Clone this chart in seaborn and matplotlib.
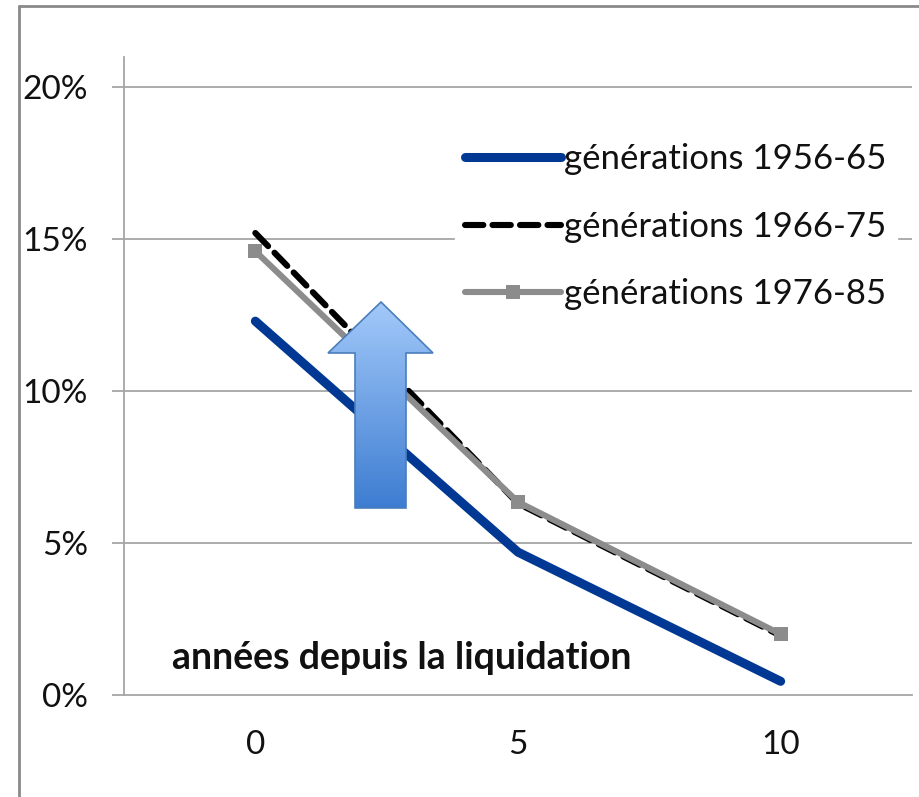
import numpy as np
import pandas as pd
import matplotlib
matplotlib.use("Agg")
import matplotlib.pyplot as plt
import seaborn as sns
from matplotlib.patches import Polygon
from matplotlib.lines import Line2D
from matplotlib.ticker import FuncFormatter

# ---- data ----
years = [0, 5, 10]
gen_1956_65 = [12.3, 4.7, 0.45]
gen_1966_75 = [15.2, 6.3, 1.95]
gen_1976_85 = [14.6, 6.35, 2.0]
series_labels = ["générations 1956-65", "générations 1966-75", "générations 1976-85"]
y_ticks = [0, 5, 10, 15, 20]
annotation = "années depuis la liquidation"

sns.set_theme(style="white")
plt.rcParams["font.family"] = ["Lato", "DejaVu Sans"]

W, H = 919, 797
fig = plt.figure(figsize=(W / 100, H / 100), dpi=100)
ax = fig.add_axes([124 / W, 1 - 695 / H, (912 - 124) / W, (695 - 57) / H])

df = pd.DataFrame({
    "x": years * 3,
    "y": gen_1956_65 + gen_1966_75 + gen_1976_85,
    "serie": [series_labels[0]] * 3 + [series_labels[1]] * 3 + [series_labels[2]] * 3,
})

sns.lineplot(data=df[df.serie == series_labels[0]], x="x", y="y", ax=ax,
             color="#003893", linewidth=6.5, solid_capstyle="round",
             label=series_labels[0], zorder=3)
sns.lineplot(data=df[df.serie == series_labels[1]], x="x", y="y", ax=ax,
             color="black", linewidth=4.4, dashes=False, label=series_labels[1], zorder=4)
ax.lines[-1].set_dashes([3.0, 1.5])
ax.lines[-1].set_dash_capstyle("round")
sns.lineplot(data=df[df.serie == series_labels[2]], x="x", y="y", ax=ax,
             color="#8c8c8c", linewidth=4.4, marker="s", markersize=10,
             markeredgewidth=0, label=series_labels[2], zorder=5)

ax.set_xlim(-2.5, 12.5)
ax.set_ylim(0, 20.99)
ax.set_xticks(years)
ax.set_xticklabels([str(v) for v in years])
ax.set_yticks(y_ticks)
ax.yaxis.set_major_formatter(FuncFormatter(lambda v, p: f"{v:.0f}%"))
ax.set_xlabel("")
ax.set_ylabel("")

for yv in y_ticks[1:]:
    ax.axhline(yv, color="#a6a6a6", linewidth=1.3, zorder=1)

for s in ["top", "right"]:
    ax.spines[s].set_visible(False)
ax.spines["left"].set_color("#a6a6a6")
ax.spines["bottom"].set_color("#a6a6a6")
ax.spines["left"].set_linewidth(1.3)
ax.spines["bottom"].set_linewidth(1.3)

ax.tick_params(axis="y", which="major", length=9, width=1.3, color="#a6a6a6",
               direction="out", left=True, pad=17, labelsize=24, labelcolor="#111111")
ax.tick_params(axis="x", which="major", length=0, pad=25, labelsize=24, labelcolor="#111111")

leg = ax.legend(loc="upper left", bbox_to_anchor=((455 - 124) / 788, (695 - 133) / 638),
                frameon=True, fancybox=False, framealpha=1, edgecolor="white",
                facecolor="white", fontsize=25, handlelength=2.74, handletextpad=0.1,
                labelspacing=1.02, borderpad=0.3, borderaxespad=0)
leg.set_zorder(6)
for txt in leg.get_texts():
    txt.set_color("#111111")

ax.text((172 - 124) / 788, (695 - 658) / 638, annotation, transform=ax.transAxes,
        fontsize=27, fontweight="bold", color="#111111", va="center", ha="left", zorder=7)

# gradient arrow (axes fraction coords)
def fx(px):
    return (px - 124) / 788

def fy(py):
    return (695 - py) / 638

arrow_pts = [(fx(381), fy(302)), (fx(433), fy(353)), (fx(406), fy(353)), (fx(406), fy(508)),
             (fx(355), fy(508)), (fx(355), fy(353)), (fx(328), fy(353))]
poly = Polygon(arrow_pts, closed=True, transform=ax.transAxes, facecolor="none",
               edgecolor="#4a7ebb", linewidth=1.2, zorder=9)
ax.add_patch(poly)
top_c = np.array([0.64, 0.79, 0.98])
bot_c = np.array([0.24, 0.49, 0.82])
t = np.linspace(0, 1, 256)[:, None]
grad = (top_c[None, :] * (1 - t) + bot_c[None, :] * t)[:, None, :]
im = ax.imshow(grad, extent=[fx(328), fx(433), fy(508), fy(302)], transform=ax.transAxes,
               aspect="auto", zorder=8, interpolation="bilinear")
clip = Polygon(arrow_pts, closed=True, transform=ax.transAxes)
im.set_clip_path(clip)
ax.set_xlim(-2.5, 12.5)
ax.set_ylim(0, 20.99)

# outer frame
fig.add_artist(Line2D([19 / W, 19 / W], [0, 1 - 6 / H], transform=fig.transFigure,
                      color="#8a8a8a", linewidth=2))
fig.add_artist(Line2D([19 / W, 1], [1 - 6 / H, 1 - 6 / H], transform=fig.transFigure,
                      color="#8a8a8a", linewidth=2))

fig.savefig("out.png", dpi=100)
